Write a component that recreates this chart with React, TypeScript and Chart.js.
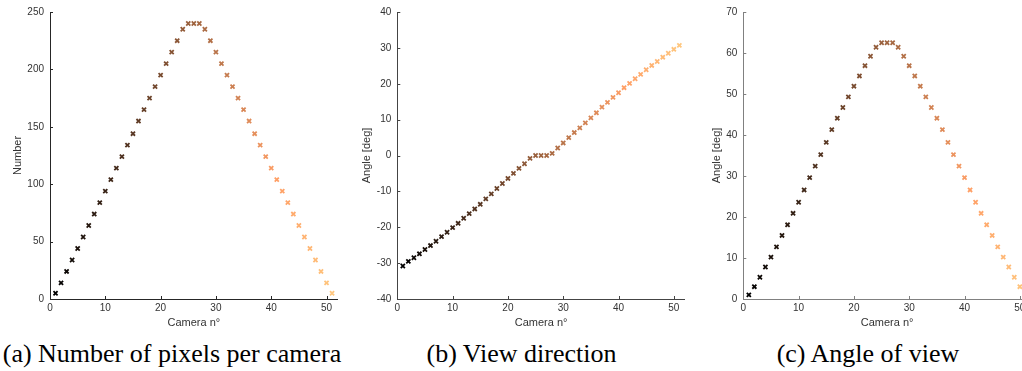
import React, { useEffect, useRef } from "react";
import { Chart, registerables } from "chart.js";

Chart.register(...registerables);

const cameras = [
  1, 2, 3, 4, 5, 6, 7, 8, 9, 10, 11, 12, 13, 14, 15, 16, 17, 18, 19, 20, 21, 22, 23, 24, 25, 26,
  27, 28, 29, 30, 31, 32, 33, 34, 35, 36, 37, 38, 39, 40, 41, 42, 43, 44, 45, 46, 47, 48, 49, 50, 51,
];

const pixelsPerCamera = [
  5, 14, 24, 34, 44, 54, 64, 74, 84, 94, 104, 114, 124, 134, 144, 155, 165, 175, 185, 195, 205, 215,
  225, 235, 240, 240, 240, 235, 225, 215, 205, 195, 185, 175, 165, 155, 144, 134, 124, 114, 104, 94,
  84, 74, 64, 54, 44, 34, 24, 14, 5,
];

const viewDirection = [
  -30.8, -29.5, -28.5, -27.4, -26.2, -25.1, -23.9, -22.6, -21.4, -20.1, -18.9, -17.5, -16.2, -14.9,
  -13.6, -12.1, -10.7, -9.2, -7.8, -6.4, -5.0, -3.6, -2.3, -0.8, 0, 0, 0, 0.6, 2.1, 3.5, 5.0, 6.4, 7.7,
  9.1, 10.5, 11.9, 13.5, 14.8, 16.2, 17.5, 18.9, 20.1, 21.4, 22.6, 23.9, 25.1, 26.2, 27.4, 28.5, 29.6,
  30.7,
];

const angleOfView = [
  1.0, 3.0, 5.3, 7.8, 10.2, 12.7, 15.5, 18.1, 20.9, 23.6, 26.6, 29.6, 32.4, 35.2, 38.2, 41.3, 44.1,
  46.7, 49.3, 51.9, 54.4, 56.9, 59.2, 61.4, 62.5, 62.5, 62.5, 61.4, 59.2, 56.9, 54.4, 51.9, 49.3, 46.7,
  44.1, 41.3, 38.2, 35.2, 32.4, 29.6, 26.6, 23.6, 20.9, 18.1, 15.5, 12.7, 10.2, 7.8, 5.3, 3.0, 1.0,
];

const xTicks = [0, 10, 20, 30, 40, 50];
const pixelTicks = [0, 50, 100, 150, 200, 250];
const directionTicks = [-40, -30, -20, -10, 0, 10, 20, 30, 40];
const angleTicks = [0, 10, 20, 30, 40, 50, 60, 70];

const xLabel = "Camera n°";
const captions = ["(a) Number of pixels per camera", "(b) View direction", "(c) Angle of view"];

function copper(t: number): string {
  const r = Math.min(1, 1.25 * t) * 255;
  const g = 0.7812 * t * 255;
  const b = 0.4975 * t * 255;
  return `rgb(${Math.round(r)},${Math.round(g)},${Math.round(b)})`;
}

const TEXT = "#333333";
const FONT = "'Liberation Sans', Arial, Helvetica, sans-serif";

type PanelProps = {
  left: number;
  width: number;
  yAxisWidth: number;
  yTitleCenter: number;
  padRight: number;
  yTitle: string;
  values: number[];
  yMin: number;
  yMax: number;
  yTicks: number[];
  axisColor: string;
};

function Panel(p: PanelProps) {
  const ref = useRef<HTMLCanvasElement>(null);
  useEffect(() => {
    const colors = p.values.map((_, i) => copper(i / (p.values.length - 1)));
    const inwardTicks = {
      id: "inwardTicks",
      afterDraw(chart: any) {
        const xs = chart.scales.x;
        const ys = chart.scales.y;
        const ctx = chart.ctx;
        ctx.save();
        ctx.strokeStyle = p.axisColor;
        ctx.lineWidth = 1;
        ctx.beginPath();
        for (const v of xTicks) {
          const px = Math.round(xs.getPixelForValue(v)) + 0.5;
          ctx.moveTo(px, ys.bottom);
          ctx.lineTo(px, ys.bottom - 3);
        }
        for (const v of p.yTicks) {
          const py = Math.round(ys.getPixelForValue(v)) + 0.5;
          ctx.moveTo(xs.left, py);
          ctx.lineTo(xs.left + 3, py);
        }
        ctx.stroke();
        ctx.restore();
      },
    };
    const chart = new Chart(ref.current as HTMLCanvasElement, {
      type: "scatter",
      data: {
        datasets: [
          {
            data: cameras.map((c, i) => ({ x: c, y: p.values[i] })),
            pointStyle: "crossRot",
            pointRadius: 2.9,
            pointHoverRadius: 2.9,
            pointBorderWidth: 1.8,
            pointBorderColor: colors,
            pointBackgroundColor: colors,
          } as any,
        ],
      },
      options: {
        animation: false,
        responsive: false,
        events: [],
        layout: { padding: { left: 0, top: 11, right: p.padRight, bottom: 0 } },
        plugins: { legend: { display: false }, tooltip: { enabled: false } },
        scales: {
          x: {
            type: "linear",
            min: 0,
            max: 52,
            afterBuildTicks: (s: any) => {
              s.ticks = xTicks.map((v) => ({ value: v }));
            },
            afterFit: (s: any) => {
              s.height = 31;
            },
            ticks: {
              color: TEXT,
              font: { size: 10, family: FONT },
              padding: 3,
              autoSkip: false,
              maxRotation: 0,
            },
            grid: { display: true, drawOnChartArea: false, drawTicks: false },
            border: { display: true, color: p.axisColor, width: 1 },
            title: {
              display: true,
              text: xLabel,
              color: TEXT,
              font: { size: 11, family: FONT },
              padding: { top: 1, bottom: 0 },
            },
          },
          y: {
            type: "linear",
            min: p.yMin,
            max: p.yMax,
            afterBuildTicks: (s: any) => {
              s.ticks = p.yTicks.map((v) => ({ value: v }));
            },
            afterFit: (s: any) => {
              s.width = p.yAxisWidth;
            },
            ticks: {
              color: TEXT,
              font: { size: 10, family: FONT },
              padding: 6,
              autoSkip: false,
            },
            grid: { display: true, drawOnChartArea: false, drawTicks: false },
            border: { display: true, color: p.axisColor, width: 1 },
            title: {
              display: true,
              text: p.yTitle,
              color: TEXT,
              font: { size: 11, family: FONT },
              padding: { top: p.yTitleCenter - 6.6, bottom: 0 },
            },
          },
        },
      } as any,
      plugins: [inwardTicks],
    });
    return () => chart.destroy();
  }, []);
  return (
    <canvas
      ref={ref}
      width={p.width}
      height={330}
      style={{ position: "absolute", left: p.left, top: 0, width: p.width, height: 330 }}
    />
  );
}

function Caption({ text, center }: { text: string; center: number }) {
  return (
    <div
      style={{
        position: "absolute",
        left: center - 250,
        width: 500,
        top: 341,
        lineHeight: "26px",
        fontSize: 26,
        fontFamily: "'Liberation Serif', 'Times New Roman', serif",
        color: "#000",
        textAlign: "center",
        whiteSpace: "nowrap",
      }}
    >
      {text}
    </div>
  );
}

export default function App() {
  return (
    <div
      style={{
        position: "fixed",
        left: 0,
        top: 0,
        width: 1022,
        height: 371,
        overflow: "hidden",
        background: "#fff",
      }}
    >
      <Panel
        left={0}
        width={345}
        yAxisWidth={50}
        yTitleCenter={17.5}
        padRight={7.4}
        yTitle="Number"
        values={pixelsPerCamera}
        yMin={0}
        yMax={250}
        yTicks={pixelTicks}
        axisColor="#262626"
      />
      <Panel
        left={345}
        width={345}
        yAxisWidth={52.3}
        yTitleCenter={22}
        padRight={5.1}
        yTitle="Angle [deg]"
        values={viewDirection}
        yMin={-40}
        yMax={40}
        yTicks={directionTicks}
        axisColor="#444444"
      />
      <Panel
        left={690}
        width={350}
        yAxisWidth={53.3}
        yTitleCenter={27}
        padRight={9.1}
        yTitle="Angle [deg]"
        values={angleOfView}
        yMin={0}
        yMax={70}
        yTicks={angleTicks}
        axisColor="#808080"
      />
      <Caption text={captions[0]} center={172} />
      <Caption text={captions[1]} center={521.5} />
      <Caption text={captions[2]} center={868} />
    </div>
  );
}
